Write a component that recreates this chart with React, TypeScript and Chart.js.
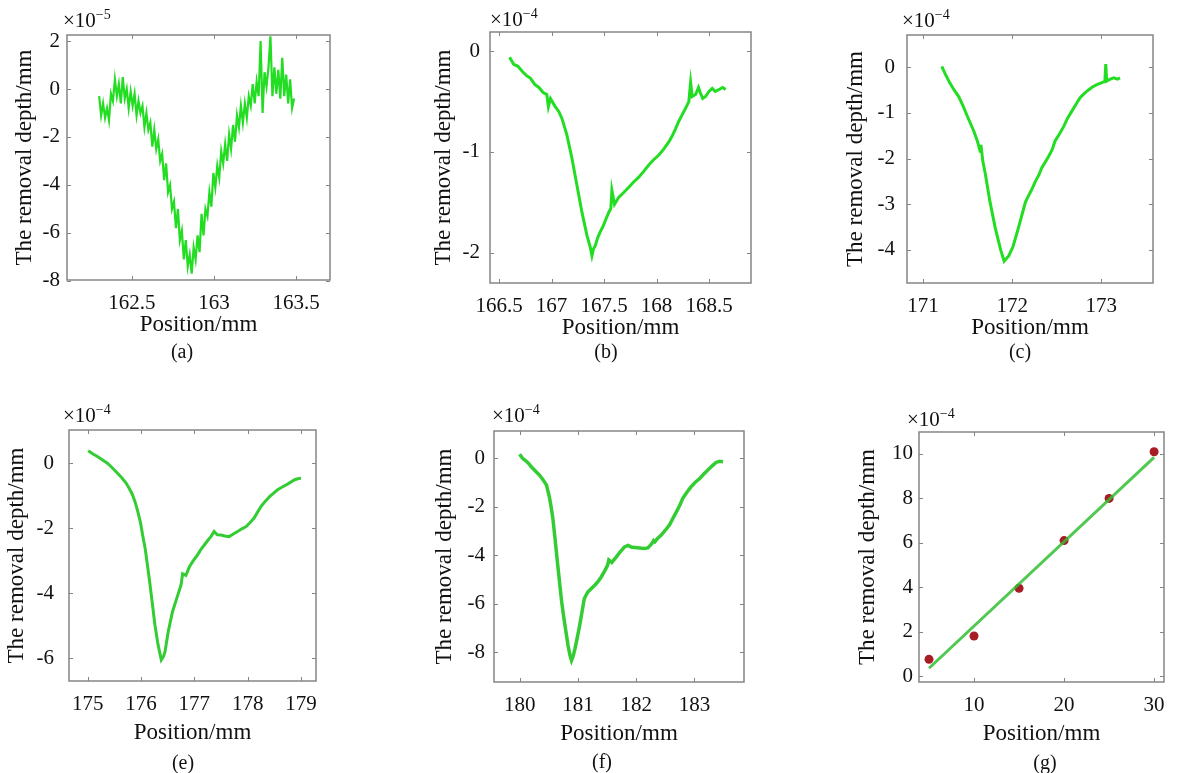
import React, { useEffect, useRef } from "react";
import { Chart, registerables } from "chart.js";
Chart.register(...registerables);

const FONT = "'Liberation Serif', 'Times New Roman', serif";

// ---------- DATA ----------
// (a)
const posA = [162.300, 162.312, 162.324, 162.336, 162.348, 162.360, 162.372, 162.384, 162.396, 162.408, 162.420, 162.432, 162.444, 162.456, 162.468, 162.480, 162.492, 162.504, 162.516, 162.528, 162.540, 162.552, 162.564, 162.576, 162.588, 162.600, 162.612, 162.624, 162.636, 162.648, 162.660, 162.672, 162.684, 162.696, 162.708, 162.720, 162.732, 162.744, 162.756, 162.768, 162.780, 162.792, 162.804, 162.816, 162.828, 162.840, 162.852, 162.864, 162.876, 162.888, 162.900, 162.912, 162.924, 162.936, 162.948, 162.960, 162.972, 162.984, 162.996, 163.008, 163.020, 163.032, 163.044, 163.056, 163.068, 163.080, 163.092, 163.104, 163.116, 163.128, 163.140, 163.152, 163.164, 163.176, 163.188, 163.200, 163.212, 163.224, 163.236, 163.248, 163.260, 163.272, 163.284, 163.296, 163.308, 163.320, 163.332, 163.344, 163.356, 163.368, 163.380, 163.392, 163.404, 163.416, 163.428, 163.440, 163.452, 163.464, 163.476, 163.488];
const depthA = [-0.3, -1.1, -0.6, -1.2, -0.8, -1.3, -0.2, -0.5, 0.4, -0.3, 0.2, -0.6, 0.5, -0.4, 0.0, -0.8, -0.1, -0.7, -0.2, -1.1, -0.5, -1.0, -0.7, -1.6, -1.0, -1.7, -1.4, -2.4, -1.7, -2.5, -2.1, -3.0, -2.7, -3.8, -3.1, -4.3, -4.0, -5.0, -4.7, -5.8, -5.0, -6.3, -5.9, -7.1, -6.3, -7.4, -6.9, -7.7, -6.6, -7.1, -6.1, -6.8, -5.2, -6.1, -5.0, -5.3, -4.3, -4.9, -3.5, -4.1, -3.2, -3.7, -2.6, -3.1, -2.3, -3.0, -1.9, -2.5, -1.5, -2.2, -1.1, -1.6, -0.7, -1.4, -0.6, -1.2, -0.3, -0.7, 0.2, -0.6, 0.3, -0.3, 2.0, -1.0, 0.7, 0.1, 0.9, 2.2, -0.3, 0.9, -0.2, 0.8, -0.4, 1.3, -0.3, 0.6, -0.6, 0.4, -0.8, -0.4];

// (b)
const posB = [166.60, 166.64, 166.68, 166.72, 166.76, 166.80, 166.84, 166.88, 166.92, 166.955, 166.97, 166.99, 167.035, 167.07, 167.10, 167.146, 167.194, 167.242, 167.29, 167.338, 167.37, 167.385, 167.40, 167.417, 167.44, 167.465, 167.49, 167.513, 167.545, 167.565, 167.575, 167.60, 167.64, 167.69, 167.736, 167.78, 167.831, 167.88, 167.926, 167.97, 168.022, 168.07, 168.117, 168.15, 168.181, 168.21, 168.245, 168.275, 168.308, 168.325, 168.34, 168.372, 168.40, 168.42, 168.44, 168.467, 168.50, 168.531, 168.56, 168.595, 168.63, 168.659];
const depthB = [-0.06, -0.13, -0.15, -0.20, -0.24, -0.27, -0.33, -0.36, -0.41, -0.43, -0.55, -0.47, -0.55, -0.60, -0.67, -0.83, -1.06, -1.33, -1.60, -1.83, -1.95, -2.03, -1.96, -1.93, -1.85, -1.79, -1.74, -1.68, -1.60, -1.56, -1.38, -1.52, -1.45, -1.40, -1.35, -1.30, -1.25, -1.19, -1.13, -1.08, -1.03, -0.97, -0.90, -0.84, -0.77, -0.70, -0.63, -0.57, -0.50, -0.31, -0.45, -0.43, -0.36, -0.42, -0.47, -0.45, -0.40, -0.37, -0.40, -0.38, -0.36, -0.38];

// (c)
const posC = [171.21, 171.25, 171.30, 171.35, 171.40, 171.45, 171.49, 171.53, 171.57, 171.61, 171.64, 171.65, 171.67, 171.70, 171.75, 171.81, 171.87, 171.91, 171.94, 171.96, 172.01, 172.07, 172.13, 172.15, 172.18, 172.22, 172.26, 172.30, 172.33, 172.37, 172.41, 172.45, 172.48, 172.53, 172.58, 172.62, 172.67, 172.72, 172.76, 172.81, 172.86, 172.90, 172.95, 173.00, 173.04, 173.05, 173.06, 173.10, 173.14, 173.18, 173.21];
const depthC = [0.02, -0.15, -0.34, -0.50, -0.64, -0.85, -1.04, -1.22, -1.40, -1.62, -1.84, -1.70, -2.05, -2.35, -2.94, -3.52, -4.00, -4.25, -4.18, -4.14, -3.93, -3.52, -3.09, -2.95, -2.83, -2.68, -2.50, -2.36, -2.21, -2.08, -1.95, -1.80, -1.62, -1.46, -1.29, -1.12, -0.96, -0.80, -0.67, -0.57, -0.49, -0.43, -0.38, -0.34, -0.31, 0.07, -0.30, -0.26, -0.23, -0.26, -0.23];

// (e)
const posE = [175.01, 175.10, 175.19, 175.28, 175.37, 175.46, 175.56, 175.64, 175.72, 175.78, 175.84, 175.89, 175.94, 175.99, 176.03, 176.08, 176.12, 176.16, 176.20, 176.26, 176.32, 176.38, 176.42, 176.45, 176.51, 176.59, 176.69, 176.75, 176.78, 176.84, 176.91, 176.98, 177.06, 177.12, 177.19, 177.25, 177.31, 177.37, 177.43, 177.50, 177.57, 177.65, 177.73, 177.81, 177.89, 177.97, 178.05, 178.12, 178.18, 178.25, 178.33, 178.41, 178.48, 178.56, 178.64, 178.72, 178.80, 178.88, 178.94, 179.00];
const depthE = [0.38, 0.28, 0.20, 0.10, 0.00, -0.14, -0.31, -0.45, -0.61, -0.78, -0.97, -1.20, -1.49, -1.83, -2.21, -2.65, -3.13, -3.62, -4.15, -4.97, -5.59, -6.05, -5.95, -5.80, -5.18, -4.57, -4.05, -3.75, -3.40, -3.45, -3.18, -3.00, -2.82, -2.66, -2.51, -2.38, -2.26, -2.10, -2.20, -2.21, -2.24, -2.26, -2.18, -2.10, -2.02, -1.95, -1.82, -1.69, -1.52, -1.33, -1.17, -1.03, -0.93, -0.82, -0.74, -0.67, -0.59, -0.51, -0.48, -0.46];

// (f)
const posF = [180.00, 180.05, 180.09, 180.15, 180.20, 180.27, 180.34, 180.40, 180.46, 180.51, 180.54, 180.57, 180.60, 180.63, 180.66, 180.69, 180.72, 180.76, 180.80, 180.83, 180.86, 180.89, 180.92, 180.95, 180.99, 181.03, 181.07, 181.11, 181.17, 181.23, 181.29, 181.35, 181.40, 181.46, 181.51, 181.53, 181.58, 181.66, 181.73, 181.80, 181.86, 181.91, 181.98, 182.06, 182.13, 182.20, 182.26, 182.30, 182.32, 182.37, 182.43, 182.50, 182.57, 182.63, 182.69, 182.75, 182.80, 182.87, 182.94, 183.01, 183.09, 183.16, 183.23, 183.30, 183.37, 183.43, 183.49];
const depthF = [0.17, 0.00, -0.07, -0.20, -0.35, -0.52, -0.69, -0.88, -1.10, -1.59, -2.00, -2.48, -3.15, -3.86, -4.55, -5.24, -5.90, -6.62, -7.25, -7.72, -8.10, -8.35, -8.15, -7.86, -7.40, -6.90, -6.35, -5.79, -5.52, -5.38, -5.24, -5.07, -4.90, -4.65, -4.41, -4.20, -4.30, -4.07, -3.85, -3.66, -3.60, -3.66, -3.68, -3.70, -3.72, -3.70, -3.55, -3.40, -3.45, -3.30, -3.17, -2.97, -2.76, -2.48, -2.21, -1.93, -1.65, -1.40, -1.18, -1.00, -0.83, -0.65, -0.48, -0.32, -0.17, -0.12, -0.14];

// (g)
const posG = [5, 10, 15, 20, 25, 30];
const depthG = [0.75, 1.8, 3.95, 6.1, 8.0, 10.1];
const fitPosG = [5, 30];
const fitDepthG = [0.35, 9.85];

// tick values
const xTicksA = [162.5, 163, 163.5];
const yTicksA = [-8, -6, -4, -2, 0, 2];
const xTicksB = [166.5, 167, 167.5, 168, 168.5];
const yTicksB = [-2, -1, 0];
const xTicksC = [171, 172, 173];
const yTicksC = [-4, -3, -2, -1, 0];
const xTicksE = [175, 176, 177, 178, 179];
const yTicksE = [-6, -4, -2, 0];
const xTicksF = [180, 181, 182, 183];
const yTicksF = [-8, -6, -4, -2, 0];
const xTicksG = [10, 20, 30];
const yTicksG = [0, 2, 4, 6, 8, 10];

const X_TITLE = "Position/mm";
const Y_TITLE = "The removal depth/mm";

const pts = (xs: number[], ys: number[]) => xs.map((x, i) => ({ x, y: ys[i] }));

// ---------- LAYOUT ----------
type PanelCfg = {
  key: string;
  rect: { L: number; T: number; R: number; B: number };
  xRange: [number, number];
  yRange: [number, number];
  xTicks: number[];
  yTicks: number[];
  datasets: any[];
  exp: string;
  expPos: [number, number];
  caption: string;
  capPos: [number, number];
  yTickPad: number;
  yTitlePad: number;
  xTitleGap: number;
};

const GREEN = "#22dd22";
const GREEN2 = "#33cc33";

const lineDs = (xs: number[], ys: number[], color: string, w: number) => ({
  data: pts(xs, ys),
  borderColor: color,
  borderWidth: w,
  pointRadius: 0,
  fill: false,
  tension: 0,
});

const panels: PanelCfg[] = [
  {
    key: "a", rect: { L: 67, T: 35, R: 330, B: 280 },
    xRange: [162.104, 163.707], yRange: [-7.96, 2.25],
    xTicks: xTicksA, yTicks: yTicksA,
    datasets: [lineDs(posA, depthA, GREEN, 2.2)],
    exp: "\u22125", expPos: [63, 21], caption: "(a)", capPos: [182, 353],
    yTickPad: 7, yTitlePad: 14, xTitleGap: 45,
  },
  {
    key: "b", rect: { L: 490, T: 32, R: 751, B: 283 },
    xRange: [166.414, 168.9], yRange: [-2.3, 0.19],
    xTicks: xTicksB, yTicks: yTicksB,
    datasets: [lineDs(posB, depthB, GREEN, 3)],
    exp: "\u22124", expPos: [490, 20], caption: "(b)", capPos: [606, 353],
    yTickPad: 10, yTitlePad: 10, xTitleGap: 45,
  },
  {
    key: "c", rect: { L: 907, T: 35, R: 1153, B: 283 },
    xRange: [170.82, 173.58], yRange: [-4.73, 0.71],
    xTicks: xTicksC, yTicks: yTicksC,
    datasets: [lineDs(posC, depthC, GREEN, 3)],
    exp: "\u22124", expPos: [902, 21.5], caption: "(c)", capPos: [1020, 353],
    yTickPad: 12, yTitlePad: 5, xTitleGap: 45,
  },
  {
    key: "e", rect: { L: 69, T: 430, R: 316, B: 681 },
    xRange: [174.65, 179.28], yRange: [-6.7, 1.02],
    xTicks: xTicksE, yTicks: yTicksE,
    datasets: [lineDs(posE, depthE, GREEN2, 3)],
    exp: "\u22124", expPos: [63, 416.5], caption: "(e)", capPos: [183, 764],
    yTickPad: 15, yTitlePad: 4, xTitleGap: 52,
  },
  {
    key: "f", rect: { L: 494, T: 431, R: 744, B: 682 },
    xRange: [179.56, 183.85], yRange: [-9.24, 1.13],
    xTicks: xTicksF, yTicks: yTicksF,
    datasets: [lineDs(posF, depthF, GREEN2, 3.5)],
    exp: "\u22124", expPos: [492, 416.5], caption: "(f)", capPos: [602, 763],
    yTickPad: 9, yTitlePad: 7, xTitleGap: 52,
  },
  {
    key: "g", rect: { L: 919, T: 432, R: 1164, B: 682 },
    xRange: [3.89, 31.1], yRange: [-0.27, 10.99],
    xTicks: xTicksG, yTicks: yTicksG,
    datasets: [
      { ...lineDs(fitPosG, fitDepthG, "rgba(51,190,51,0.85)", 3) },
      {
        data: pts(posG, depthG),
        showLine: false,
        pointRadius: 4.5,
        pointBackgroundColor: "#a81c26",
        pointBorderColor: "#a81c26",
        pointBorderWidth: 0,
      },
    ],
    exp: "\u22124", expPos: [907, 420], caption: "(g)", capPos: [1045, 764],
    yTickPad: 6, yTitlePad: 5, xTitleGap: 52,
  },
];

const PAD_L = 70;
const PAD_T = 40;

const framePlugin = {
  id: "frame",
  afterDatasetsDraw(chart: any, _args: any, opts: any) {
    const { ctx, chartArea: a, scales } = chart;
    const xs = scales.x;
    const ys = scales.y;
    ctx.save();
    ctx.strokeStyle = "#858585";
    ctx.lineWidth = 1.5;
    ctx.strokeRect(a.left, a.top, a.right - a.left, a.bottom - a.top);
    ctx.lineWidth = 1;
    ctx.beginPath();
    xs.ticks.forEach((t: any) => {
      const p = Math.round(xs.getPixelForValue(t.value)) + 0.5;
      ctx.moveTo(p, a.bottom); ctx.lineTo(p, a.bottom - 4);
      ctx.moveTo(p, a.top); ctx.lineTo(p, a.top + 4);
    });
    ys.ticks.forEach((t: any) => {
      const p = Math.round(ys.getPixelForValue(t.value)) + 0.5;
      ctx.moveTo(a.left, p); ctx.lineTo(a.left + 4, p);
      ctx.moveTo(a.right, p); ctx.lineTo(a.right - 4, p);
    });
    ctx.stroke();

    // exponent label
    ctx.fillStyle = "#111";
    ctx.textBaseline = "middle";
    ctx.textAlign = "left";
    ctx.font = `21px ${FONT}`;
    ctx.fillText("\u00d710", opts.ex, opts.ey);
    const w = ctx.measureText("\u00d710").width;
    ctx.font = `14px ${FONT}`;
    ctx.fillText(opts.exp, opts.ex + w, opts.ey - 6);

    // caption
    ctx.font = `20px ${FONT}`;
    ctx.textAlign = "center";
    ctx.fillText(opts.caption, opts.cx, opts.cy);
    ctx.restore();
  },
};

function Panel({ cfg }: { cfg: PanelCfg }) {
  const ref = useRef<HTMLCanvasElement>(null);
  const { L, T, R, B } = cfg.rect;
  const padR = Math.min(25, 1178 - R);
  const hx = cfg.key === "a" || cfg.key === "b" || cfg.key === "c" ? 90 : 773 - B;
  const left = L - PAD_L;
  const top = T - PAD_T;
  const width = R - L + PAD_L + padR;
  const height = B - T + PAD_T + hx;

  useEffect(() => {
    const canvas = ref.current!;
    const chart = new Chart(canvas, {
      type: "line",
      data: { datasets: cfg.datasets },
      options: {
        responsive: false,
        animation: false,
        devicePixelRatio: 1,
        layout: { padding: { left: 0, top: PAD_T, right: padR, bottom: 0 } },
        plugins: {
          legend: { display: false },
          tooltip: { enabled: false },
          frame: {
            ex: cfg.expPos[0] - left, ey: cfg.expPos[1] - top, exp: cfg.exp,
            caption: cfg.caption, cx: cfg.capPos[0] - left, cy: cfg.capPos[1] - top,
          },
        } as any,
        scales: {
          x: {
            type: "linear",
            position: "bottom",
            min: cfg.xRange[0],
            max: cfg.xRange[1],
            grid: { display: false, drawTicks: false },
            border: { display: false },
            afterBuildTicks: (s: any) => { s.ticks = cfg.xTicks.map((v) => ({ value: v })); },
            afterFit: (s: any) => { s.height = hx; },
            ticks: {
              autoSkip: false, maxRotation: 0, minRotation: 0, padding: 11,
              color: "#111", font: { family: FONT, size: 21 },
              callback: (v: any) => String(v),
            },
            title: {
              display: true, text: X_TITLE, color: "#111",
              font: { family: FONT, size: 23 },
              padding: { top: 0, bottom: hx - cfg.xTitleGap - 13.8 },
            },
          },
          y: {
            type: "linear",
            min: cfg.yRange[0],
            max: cfg.yRange[1],
            grid: { display: false, drawTicks: false },
            border: { display: false },
            afterBuildTicks: (s: any) => { s.ticks = cfg.yTicks.map((v) => ({ value: v })); },
            afterFit: (s: any) => { s.width = PAD_L; },
            ticks: {
              autoSkip: false, padding: cfg.yTickPad,
              color: "#111", font: { family: FONT, size: 21 },
              callback: (v: any) => String(v),
            },
            title: {
              display: true, text: Y_TITLE, color: "#111",
              font: { family: FONT, size: 23 },
              padding: { top: cfg.yTitlePad, bottom: 0 },
            },
          },
        },
      },
      plugins: [framePlugin],
    });
    return () => chart.destroy();
  }, []);

  return (
    <canvas
      ref={ref}
      width={width}
      height={height}
      style={{ position: "absolute", left, top, width, height }}
    />
  );
}

export default function App() {
  return (
    <div
      style={{
        position: "fixed", left: 0, top: 0, width: 1178, height: 773,
        background: "#fff", overflow: "hidden",
      }}
    >
      {panels.map((p) => (
        <Panel key={p.key} cfg={p} />
      ))}
    </div>
  );
}
